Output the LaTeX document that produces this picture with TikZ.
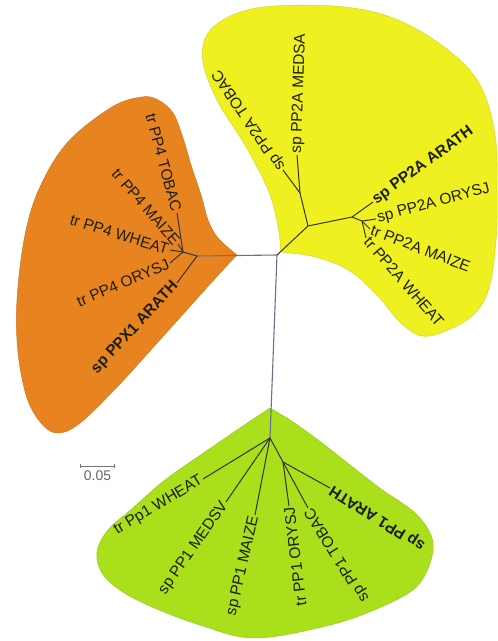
\documentclass[tikz,border=0pt]{standalone}
\usepackage{fontspec}
\setmainfont{Liberation Sans}
\usetikzlibrary{arrows.meta}
\definecolor{CladeOrange}{HTML}{E8841F}
\definecolor{CladeYellow}{HTML}{EEF01F}
\definecolor{CladeGreen}{HTML}{A9DF1B}
\definecolor{RootGrey}{HTML}{6E6E8C}
\definecolor{LeafText}{HTML}{1E1E14}

\begin{document}
\begin{tikzpicture}[x=1pt,y=-1pt,
    clade/.style={draw=#1!90!black,line width=0.5pt,fill=#1},
    branch/.style={draw=black!80,line width=1pt},
    rootedge/.style={draw=RootGrey,line width=1.1pt},
    leaf/.style={font=\fontsize{15.5}{17}\selectfont,text=LeafText,inner sep=1.5pt},
    typeleaf/.style={leaf,font=\fontsize{15.5}{17}\selectfont\bfseries},
    scalebar/.style={draw=black!55,line width=0.8pt,{Bar[width=4pt]}-{Bar[width=4pt]}}
  ]
  \useasboundingbox (0,0) rectangle (498,641);

  % clades
  \path[clade=CladeOrange] plot[smooth,tension=0.6] coordinates {
    (237,255) (218,238) (208,220) (201,195) (191,165) (183,138) (173,113)
    (158,100) (142,97) (112,107) (68,142) (40,187) (25,235) (17,300)
    (18,352) (27,398) (42,424) (58,433) (80,423) (117,387) (157,343)
    (193,303) (220,273) (237,255)} -- cycle;
  \path[clade=CladeYellow] plot[smooth,tension=0.6] coordinates {
    (280,252) (279,232) (269,192) (245,145) (218,102) (203,62) (208,33)
    (235,14) (275,6) (345,7) (398,20) (448,50) (480,85) (495,135)
    (497,190) (496,240) (489,288) (474,314) (448,330) (422,336) (400,322)
    (377,295) (350,271) (316,257) (280,252)} -- cycle;
  \path[clade=CladeGreen] plot[smooth,tension=0.6] coordinates {
    (270,408) (240,428) (205,452) (165,480) (133,508) (108,530) (97,552)
    (102,573) (120,590) (150,606) (200,625) (255,638) (330,625) (381,607)
    (415,588) (430,563) (432,538) (415,513) (381,489) (350,465) (322,443)
    (293,422) (270,408)} -- cycle;

  % inner nodes
  \coordinate (root) at (277,255);
  \coordinate (ppx) at (197,256);
  \coordinate (pp4) at (183,252);
  \coordinate (pp2a) at (308,226);
  \coordinate (pp2aDicot) at (300,193);
  \coordinate (pp2aMono) at (352,217);
  \coordinate (pp2aGrass) at (362,221);
  \coordinate (pp1) at (270,438);
  \coordinate (pp1Dicot) at (283,462);

  % PP4 / PPX
  \node[leaf,anchor=east,rotate=-75] (pp4Tobac) at (177,213) {tr PP4 TOBAC};
  \node[leaf,anchor=east,rotate=-49] (pp4Maize) at (178,244) {tr PP4 MAIZE};
  \node[leaf,anchor=east,rotate=-17] (pp4Wheat) at (170,250) {tr PP4 WHEAT};
  \node[leaf,anchor=east,rotate=23] (pp4Orysj) at (170,263) {tr PP4 ORYSJ};
  \node[typeleaf,anchor=east,rotate=47] (ppx1Arath) at (177,283) {sp PPX1 ARATH};

  % PP2A
  \node[leaf,anchor=west,rotate=124] (pp2aTobac) at (283,170) {sp PP2A TOBAC};
  \node[leaf,anchor=west,rotate=88] (pp2aMedsa) at (297,155) {sp PP2A MEDSA};
  \node[typeleaf,anchor=west,rotate=36] (pp2aArath) at (373,202) {sp PP2A ARATH};
  \node[leaf,anchor=west,rotate=15] (pp2aOrysj) at (376,219) {sp PP2A ORYSJ};
  \node[leaf,anchor=west,rotate=-21] (pp2aMaize) at (370,229) {tr PP2A MAIZE};
  \node[leaf,anchor=west,rotate=-49] (pp2aWheat) at (366,238) {tr PP2A WHEAT};

  % PP1
  \node[leaf,anchor=east,rotate=31] (pp1Wheat) at (203,479) {tr Pp1 WHEAT};
  \node[leaf,anchor=east,rotate=55] (pp1Medsv) at (226,502) {sp PP1 MEDSV};
  \node[leaf,anchor=east,rotate=77] (pp1Maize) at (255,515) {sp PP1 MAIZE};
  \node[leaf,anchor=east,rotate=97] (pp1Orysj) at (289,506) {tr PP1 ORYSJ};
  \node[leaf,anchor=east,rotate=122] (pp1Tobac) at (308,508) {sp PP1 TOBAC};
  \node[typeleaf,anchor=east,rotate=148] (pp1Arath) at (330,488) {sp PP1 ARATH};

  % branches
  \draw[rootedge] (root) -- (ppx);
  \draw[rootedge] (root) -- (pp1);
  \draw[branch] (root) -- (pp2a);
  \draw[branch] (ppx) -- (pp4);
  \draw[branch] (ppx) -- (ppx1Arath.east);
  \foreach \leafname in {pp4Tobac,pp4Maize,pp4Wheat,pp4Orysj}
    \draw[branch] (pp4) -- (\leafname.east);
  \draw[branch] (pp2a) -- (pp2aDicot);
  \draw[branch] (pp2a) -- (pp2aMono);
  \draw[branch] (pp2aDicot) -- (pp2aTobac.west);
  \draw[branch] (pp2aDicot) -- (pp2aMedsa.west);
  \draw[branch] (pp2aMono) -- (pp2aArath.west);
  \draw[branch] (pp2aMono) -- (pp2aGrass);
  \foreach \leafname in {pp2aOrysj,pp2aMaize,pp2aWheat}
    \draw[branch] (pp2aGrass) -- (\leafname.west);
  \foreach \leafname in {pp1Wheat,pp1Medsv,pp1Maize}
    \draw[branch] (pp1) -- (\leafname.east);
  \draw[branch] (pp1) -- (pp1Dicot);
  \foreach \leafname in {pp1Orysj,pp1Tobac,pp1Arath}
    \draw[branch] (pp1Dicot) -- (\leafname.east);

  % scale
  \coordinate (sbLeft) at (80,466);
  \coordinate (sbRight) at (115,466);
  \draw[scalebar] (sbLeft) -- node[below=1pt,font=\fontsize{14}{16}\selectfont,text=black!60] (sbText) {0.05} (sbRight);
\end{tikzpicture}
\end{document}
